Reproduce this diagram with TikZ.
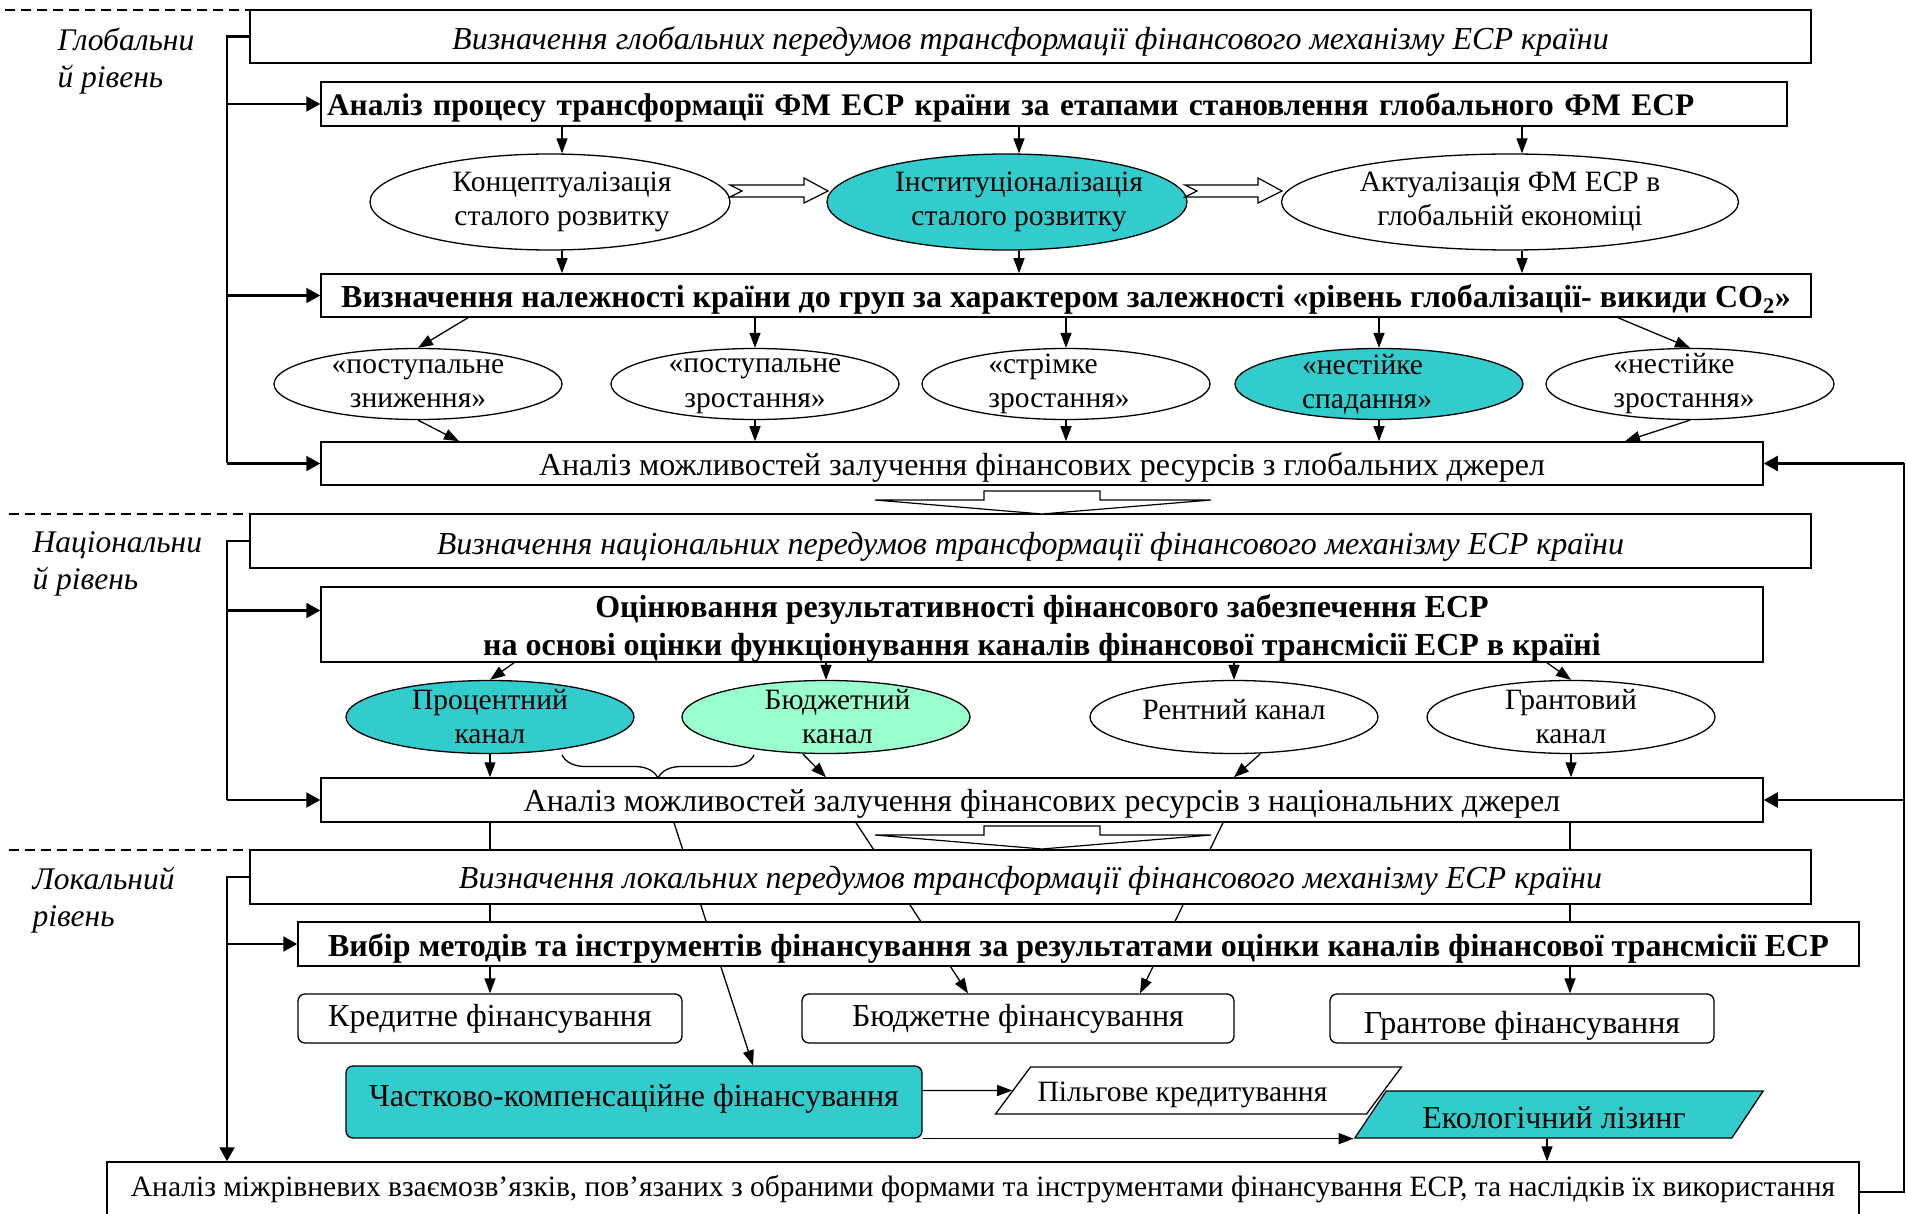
\documentclass[tikz,border=0pt]{standalone}
\usepackage{fontspec}
\setmainfont{Liberation Serif}
\usetikzlibrary{positioning,shapes.geometric,arrows.meta,decorations.pathreplacing,backgrounds,calc}

\definecolor{ecoteal}{HTML}{33CCCC}
\definecolor{ecomint}{HTML}{99FFCC}
\newcommand{\fsbox}{\fontsize{32}{38}\selectfont}
\newcommand{\fsell}{\fontsize{29.5}{34}\selectfont}
\newcommand{\fslvl}{\fontsize{31.5}{37}\selectfont\itshape}
\newcommand{\vshift}[2]{\raisebox{#1}[\height][\depth]{#2}}

\begin{document}
\begin{tikzpicture}[x=1pt, y=-1pt,
        sz/.style 2 args={minimum width=#1pt, minimum height=#2pt},
        box/.style={draw, line width=1.5pt, fill=white, inner xsep=6pt, inner ysep=0pt, font=\fsbox},
        ell/.style={draw, ellipse, line width=1.3pt, fill=white, align=center, inner xsep=-12pt, inner ysep=-10pt, font=\fsell},
        rbox/.style={draw, rounded corners=7pt, line width=1.3pt, fill=white, font=\fsbox},
        para/.style={draw, trapezium, trapezium left angle=44, trapezium right angle=136,
            trapezium stretches=true, line width=1.3pt, inner sep=0pt, font=\fsell},
        arr/.style={line width=1.3pt, -{Triangle[length=15pt,width=11pt]}},
        brk/.style={line width=2.2pt},
        brkarr/.style={brk, -{Triangle[length=14pt,width=15pt]}},
        lvl/.style={anchor=north west, align=left, font=\fslvl}]
    \useasboundingbox (0,0) rectangle (1907,1214);

    % global level
    \node[box, sz={1561}{53}, font=\fsbox\itshape] (glpre) at (1030.5,36.5) {\vshift{-5pt}{Визначення глобальних передумов трансформації фінансового механізму ЕСР країни}};
    \node[box, sz={1466}{44}, font=\fontsize{31.4}{38}\selectfont\bfseries, text width=1454pt, align=left] (glstage) at (1054,104) {\vshift{-4pt}{Аналіз процесу трансформації ФМ ЕСР країни за етапами становлення глобального ФМ ЕСР}};
    \node[ell, sz={360}{96}] (concept) at (550,202) {\hspace*{24pt}Концептуалізація\\\hspace*{24pt}сталого розвитку};
    \node[ell, sz={360}{96}, fill=ecoteal] (instit) at (1007,202) {\hspace*{24pt}Інституціоналізація\\\hspace*{24pt}сталого розвитку};
    \node[ell, sz={457}{96}] (actual) at (1510,202) {Актуалізація ФМ ЕСР в\\глобальній економіці};
    \node[box, sz={1490}{43}, font=\fsbox\bfseries] (glgroup) at (1066,295.5) {\vshift{-4pt}{Визначення належності країни до груп за характером залежності «рівень глобалізації- викиди CO\textsubscript{2}»}};
    \node[ell, sz={288}{71}] (grA) at (418,384) {«поступальне\\зниження»};
    \node[ell, sz={288}{71}] (grB) at (755,384) {\vshift{-2pt}{«поступальне}\\\vshift{-3pt}{зростання»}};
    \node[ell, sz={288}{71}, align=left] (grC) at (1066,384) {\hspace*{-14pt}«стрімке\\\hspace*{-14pt}зростання»};
    \node[ell, sz={288}{71}, align=left, fill=ecoteal] (grD) at (1379,384) {\hspace*{-24pt}«нестійке\\\hspace*{-24pt}спадання»};
    \node[ell, sz={288}{71}, align=left] (grE) at (1690,384) {\hspace*{-12pt}«нестійке\\\hspace*{-12pt}зростання»};
    \node[box, sz={1442}{43}] (glres) at (1042,463.5) {\vshift{-4pt}{Аналіз можливостей залучення фінансових ресурсів з глобальних джерел}};

    % national level
    \node[box, sz={1561}{54}, font=\fsbox\itshape] (napre) at (1030.5,541) {\vshift{-6pt}{Визначення національних передумов трансформації фінансового механізму ЕСР країни}};
    \node[box, sz={1442}{75}, font=\fsbox\bfseries, align=center] (naeval) at (1042,624.5) {\vshift{-4pt}{Оцінювання результативності фінансового забезпечення ЕСР}\\\vshift{-4pt}{на основі оцінки функціонування каналів фінансової трансмісії ЕСР в країні}};
    \node[ell, sz={288}{73}, fill=ecoteal] (chPct) at (490,717) {Процентний\\канал};
    \node[ell, sz={288}{73}, fill=ecomint] (chBud) at (826,717) {\hspace*{23pt}Бюджетний\\\hspace*{23pt}канал};
    \node[ell, sz={288}{73}] (chRent) at (1234,717) {\vshift{7pt}{Рентний канал}};
    \node[ell, sz={288}{73}] (chGrant) at (1571,717) {Грантовий\\канал};
    \node[box, sz={1442}{44}] (nares) at (1042,800) {\vshift{-4pt}{Аналіз можливостей залучення фінансових ресурсів з національних джерел}};

    % local level
    \node[box, sz={1561}{54}, font=\fsbox\itshape] (lopre) at (1030.5,877) {\vshift{-4pt}{Визначення локальних передумов трансформації фінансового механізму ЕСР країни}};
    \node[box, sz={1561}{44}, font=\fsbox\bfseries] (lochoice) at (1078.5,944) {\vshift{-4pt}{Вибір методів та інструментів фінансування за результатами оцінки каналів фінансової трансмісії ЕСР}};
    \node[rbox, sz={384}{49}] (fnCred) at (490,1018.5) {Кредитне фінансування};
    \node[rbox, sz={432}{49}] (fnBud) at (1018,1018.5) {Бюджетне фінансування};
    \node[rbox, sz={384}{49}] (fnGrant) at (1522,1018.5) {\vshift{-7pt}{Грантове фінансування}};
    \node[rbox, sz={576}{72}, fill=ecoteal] (fnPart) at (634,1102) {\vshift{3pt}{Частково-компенсаційне фінансування}};
    \node[para, sz={407}{47}] (fnPref) at (1198.5,1090.5) {\hspace*{-32pt}\vshift{-4pt}{Пільгове кредитування}};
    \node[para, sz={410}{47}, fill=ecoteal, font=\fsbox] (fnLease) at (1559,1114.5) {\hspace*{-10pt}\vshift{-3pt}{Екологічний лізинг}};
    \node[box, sz={1752}{60}, font=\fsell] (interlev) at (983,1192) {\vshift{3pt}{Аналіз міжрівневих взаємозв’язків, пов’язаних з обраними формами та інструментами фінансування ЕСР, та наслідків їх використання}};

    % level names
    \node[lvl] (lvG) at (54,24) {Глобальни\\й рівень};
    \node[lvl] (lvN) at (29,528) {Національни\\й рівень};
    \node[lvl] (lvL) at (29,864) {Локальний\\рівень};
    \draw[dash pattern=on 10pt off 6pt, line width=1.2pt] (5,10) -- (321,10);
    \draw[dash pattern=on 10pt off 6pt, line width=1.2pt] (9,514) -- (266,514);
    \draw[dash pattern=on 10pt off 6pt, line width=1.2pt] (9,850) -- (266,850);

    % left brackets
    \coordinate (lb) at (227,0);
    \draw[brk] (glpre.west) -- (glpre.west -| lb) -- (glres.west -| lb);
    \foreach \n in {glstage, glgroup, glres}
        \draw[brkarr] (\n.west -| lb) -- (\n.west);
    \draw[brk] (napre.west) -- (napre.west -| lb) -- (nares.west -| lb);
    \draw[brkarr] ([yshift=14pt]naeval.west -| lb) -- ([yshift=14pt]naeval.west);
    \draw[brkarr] (nares.west -| lb) -- (nares.west);
    \draw[brkarr] (lopre.west) -- (lopre.west -| lb) -- (interlev.north -| lb);
    \draw[brkarr] (lochoice.west -| lb) -- (lochoice.west);

    % right feedback
    \coordinate (rb) at (1904,0);
    \draw[brk] (interlev.east) -- (interlev.east -| rb) -- (glres.east -| rb);
    \draw[brkarr] (glres.east -| rb) -- (glres.east);
    \draw[brkarr] (nares.east -| rb) -- (nares.east);

    % stages
    \foreach \n in {concept, instit, actual} {
        \draw[arr] ([xshift=12pt]\n.north |- glstage.south) -- ([xshift=12pt]\n.north);
        \draw[arr] ([xshift=12pt]\n.south) -- ([xshift=12pt]\n.south |- glgroup.north);
    }
    \foreach \xa/\xb in {730/828, 1185/1282}
        \draw[line width=1.2pt, fill=white] (\xa,185) -- (\xb-24,185) -- (\xb-24,178) -- (\xb,191)
            -- (\xb-24,203) -- (\xb-24,197) -- (\xa,197) -- (\xa+12,191) -- cycle;

    % groups
    \draw[arr] ([xshift=50pt]grA.north |- glgroup.south) -- (grA.north);
    \draw[arr] ([xshift=-72pt]grE.north |- glgroup.south) -- (grE.north);
    \draw[arr] (grA.south) -- ([xshift=41pt]grA.south |- glres.north);
    \draw[arr] (grE.south) -- ([xshift=-65pt]grE.south |- glres.north);
    \foreach \n in {grB, grC, grD} {
        \draw[arr] (\n.north |- glgroup.south) -- (\n.north);
        \draw[arr] (\n.south) -- (\n.south |- glres.north);
    }

    % transition arrows
    \foreach \ya in {491, 826}
        \draw[line width=1.2pt, fill=white] (984,\ya) -- (1100,\ya) -- (1100,\ya+9) -- (1211,\ya+9)
            -- (1042,\ya+23) -- (875,\ya+9) -- (984,\ya+9) -- cycle;

    % channels
    \draw[arr] ([xshift=24pt]chPct.north |- naeval.south) -- (chPct.north);
    \draw[arr] (chBud.north |- naeval.south) -- (chBud.north);
    \draw[arr] (chRent.north |- naeval.south) -- (chRent.north);
    \draw[arr] ([xshift=-24pt]chGrant.north |- naeval.south) -- (chGrant.north);
    \draw[arr] (chPct.south) -- (chPct.south |- nares.north);
    \draw[arr] ([xshift=-23pt]chBud.south) -- (chBud.south |- nares.north);
    \draw[arr] ([xshift=26pt]chRent.south) -- (chRent.south |- nares.north);
    \draw[arr] (chGrant.south) -- (chGrant.south |- nares.north);
    \draw[line width=1.3pt, decorate, decoration={brace, mirror, amplitude=23pt}] (562,755) -- (754,755);

    % finance forms
    \draw[arr] (fnPart.east |- fnPref) -- (fnPref);
    \draw[arr] (fnPart.south east) -- (fnLease.bottom left corner);
    \draw[arr] ([xshift=-12pt]fnLease.south) -- ([xshift=-12pt]fnLease.south |- interlev.north);
    \begin{pgfonlayer}{background}
        \draw[arr] (fnCred.north |- nares.south) -- (fnCred.north);
        \draw[arr] ([xshift=-368pt]nares.south) -- ([xshift=119pt]fnPart.north);
        \draw[arr] ([xshift=-186pt]nares.south) -- ([xshift=-50pt]fnBud.north);
        \draw[arr] ([xshift=181pt]nares.south) -- ([xshift=122pt]fnBud.north);
        \draw[arr] ([xshift=48pt]fnGrant.north |- nares.south) -- ([xshift=48pt]fnGrant.north);
    \end{pgfonlayer}
\end{tikzpicture}
\end{document}
